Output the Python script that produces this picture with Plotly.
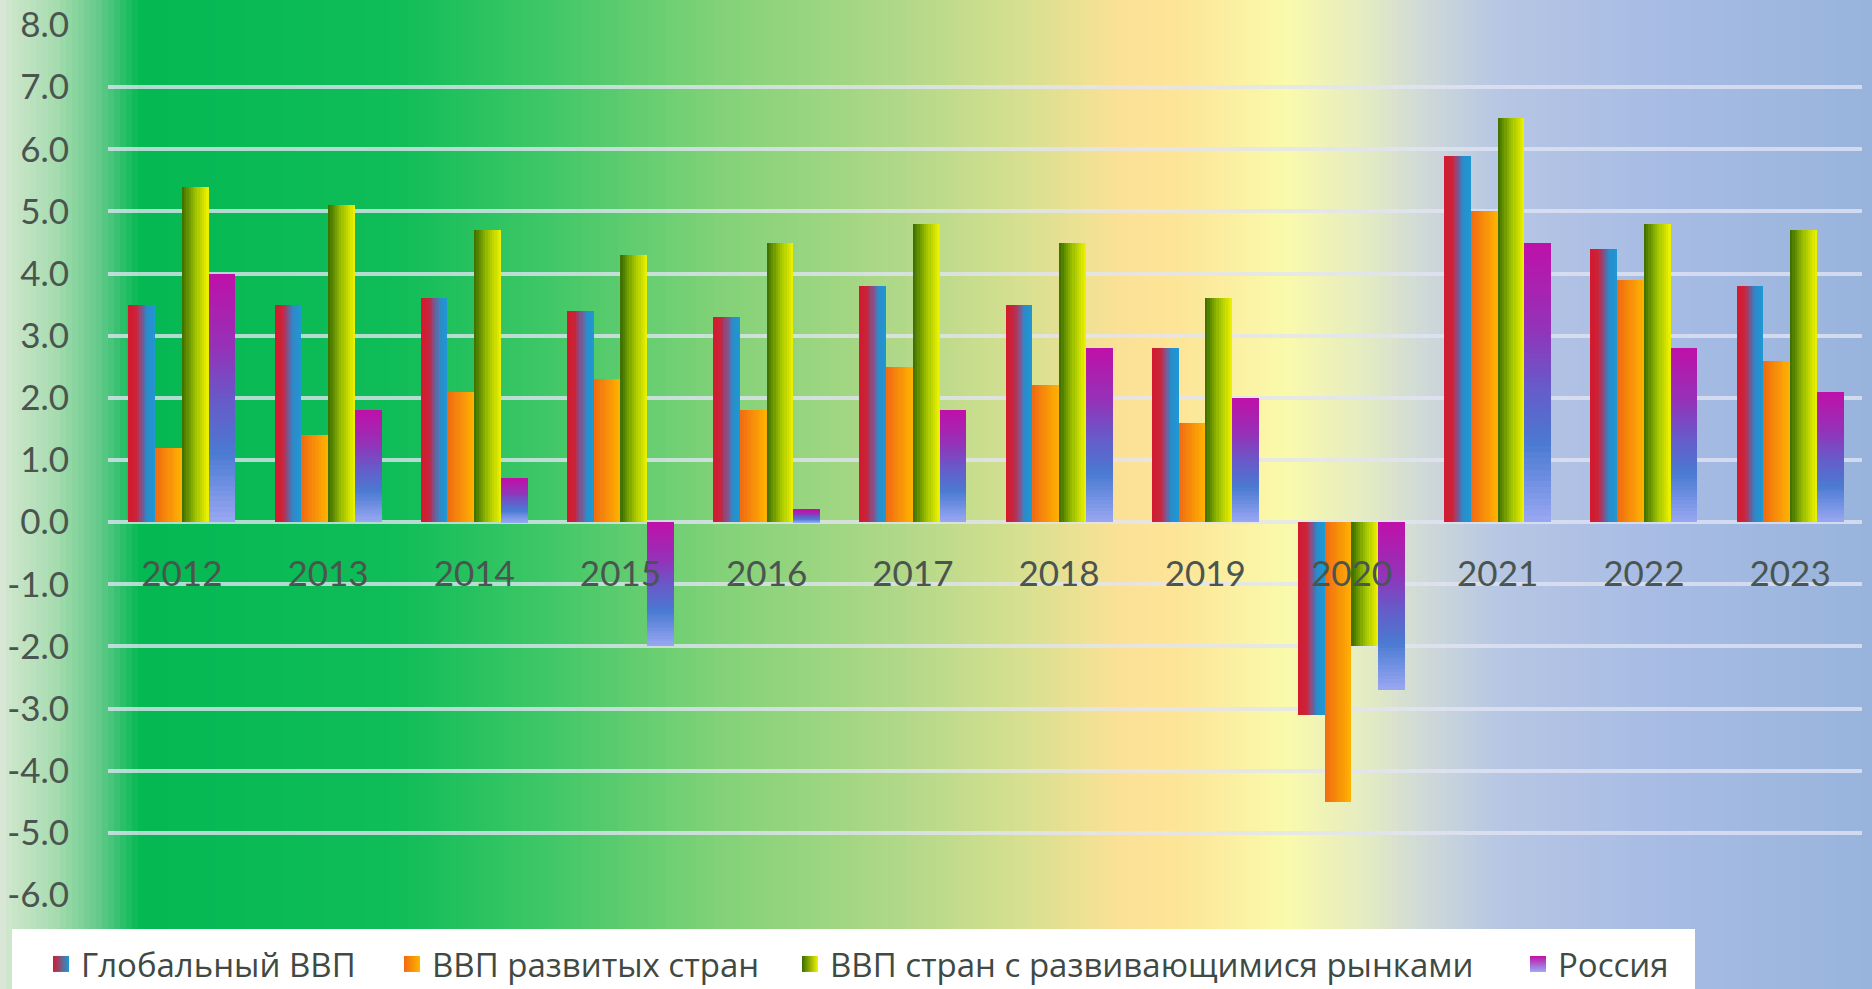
import plotly.graph_objects as go

# ---------------- data ----------------
years = ["2012", "2013", "2014", "2015", "2016", "2017", "2018", "2019", "2020", "2021", "2022", "2023"]
global_gdp = [3.5, 3.5, 3.6, 3.4, 3.3, 3.8, 3.5, 2.8, -3.1, 5.9, 4.4, 3.8]
developed_gdp = [1.2, 1.4, 2.1, 2.3, 1.8, 2.5, 2.2, 1.6, -4.5, 5.0, 3.9, 2.6]
emerging_gdp = [5.4, 5.1, 4.7, 4.3, 4.5, 4.8, 4.5, 3.6, -2.0, 6.5, 4.8, 4.7]
russia_gdp = [4.0, 1.8, 0.7, -2.0, 0.2, 1.8, 2.8, 2.0, -2.7, 4.5, 2.8, 2.1]
series_names = ["Глобальный ВВП", "ВВП развитых стран", "ВВП стран с развивающимися рынками", "Россия"]
y_ticks = [-6, -5, -4, -3, -2, -1, 0, 1, 2, 3, 4, 5, 6, 7, 8]
y_tick_labels = ["%.1f" % v for v in y_ticks]

# ---------------- geometry / style ----------------
W, H = 1872, 989
ML, MR, MT, MB = 108, 10, 25, 94
PW, PH = W - ML - MR, H - MT - MB


def px2x(px):
    return (px - ML) / PW


def py2y(py):
    return (H - MB - py) / PH


def hex2rgb(h):
    h = h.lstrip("#")
    return tuple(int(h[i:i + 2], 16) for i in (0, 2, 4))


def interp(stops, t):
    for i in range(len(stops) - 1):
        a, ca = stops[i]
        b, cb = stops[i + 1]
        if a <= t <= b:
            f = 0 if b == a else (t - a) / (b - a)
            r1, g1, b1 = hex2rgb(ca)
            r2, g2, b2 = hex2rgb(cb)
            return "rgb(%d,%d,%d)" % (round(r1 + (r2 - r1) * f), round(g1 + (g2 - g1) * f), round(b1 + (b2 - b1) * f))
    return stops[-1][1] if t > stops[-1][0] else stops[0][1]


bg_stops = [
    (0, "#dfe6dc"), (8, "#cfe6cc"), (55, "#a8dcb0"), (100, "#62c98a"), (140, "#04b852"),
    (400, "#10bd58"), (560, "#44c868"), (720, "#82d278"), (900, "#b0d888"), (1020, "#d6e090"),
    (1120, "#fbe196"), (1175, "#fde496"), (1285, "#fafaab"), (1360, "#e6edc0"), (1425, "#cfd9d8"),
    (1500, "#b6c6e4"), (1650, "#a8bce4"), (1872, "#98b4dc"),
]

shapes = []
step = 6
for x0 in range(0, W, step):
    shapes.append(dict(
        type="rect", xref="paper", yref="paper", layer="below",
        x0=px2x(x0), x1=px2x(min(x0 + step + 1, W)), y0=py2y(H + 2), y1=py2y(-2),
        fillcolor=interp(bg_stops, x0 + step / 2), line=dict(width=0),
    ))
# white legend panel
shapes.append(dict(
    type="rect", xref="paper", yref="paper", layer="below",
    x0=px2x(12), x1=px2x(1695), y0=py2y(991), y1=py2y(929),
    fillcolor="white", line=dict(width=0),
))

bar_w = 0.183
starts = [-2 * bar_w, -bar_w, 0.0, bar_w]

grad_global = [(0, "#d41a30"), (0.3, "#c8243a"), (0.5, "#86508a"), (0.72, "#2a8cca"), (1, "#1e98d4")]
grad_dev = [(0, "#f06a12"), (1, "#ffb400")]
grad_em = [(0, "#3a6c00"), (0.5, "#9cc000"), (1, "#f2f400")]
grad_ru = [(0, "#c010a8"), (0.3, "#9432b8"), (0.5, "#6a58c8"), (0.72, "#4a7ad2"), (1, "#9aa8f2")]

fig = go.Figure()

NH = 12
for values, start, grad in [(global_gdp, starts[0], grad_global),
                            (developed_gdp, starts[1], grad_dev),
                            (emerging_gdp, starts[2], grad_em)]:
    for k in range(NH):
        sw = bar_w / NH
        width = sw * (1.6 if k < NH - 1 else 1.0)
        fig.add_trace(go.Bar(
            x=years, y=values, offset=start + k * sw, width=width,
            marker=dict(color=interp(grad, (k + 0.5) / NH), line=dict(width=0)),
            showlegend=False, hoverinfo="skip",
        ))

NV = 48
for k in range(NV):
    bases = [v * k / NV for v in russia_gdp]
    heights = [v / NV * (1.6 if k < NV - 1 else 1.0) for v in russia_gdp]
    cols = []
    for v in russia_gdp:
        t = 1 - (k + 0.5) / NV if v >= 0 else (k + 0.5) / NV
        cols.append(interp(grad_ru, t))
    fig.add_trace(go.Bar(
        x=years, y=heights, base=bases, offset=starts[3], width=bar_w,
        marker=dict(color=cols, line=dict(width=0)),
        showlegend=False, hoverinfo="skip",
    ))

# legend entries (one legend per entry to place them like the original)
legend_defs = [
    (grad_global[0][1], grad_global[-1][1], "horizontal", 83),
    (grad_dev[0][1], grad_dev[-1][1], "horizontal", 434),
    (grad_em[0][1], grad_em[-1][1], "horizontal", 832),
    (grad_ru[0][1], grad_ru[-1][1], "vertical", 1560),
]
legend_names = ["legend", "legend2", "legend3", "legend4"]
for name, (c1, c2, gt, tx), lg in zip(series_names, legend_defs, legend_names):
    fig.add_trace(go.Scatter(
        x=[None], y=[None], mode="markers", name=name, legend=lg,
        marker=dict(symbol="square", size=20, color=c1, gradient=dict(type=gt, color=c2)),
    ))

leg_font = dict(family="Liberation Sans Narrow, Open Sans, sans-serif", size=33, color="#3f4a44")
layout_legends = {}
for lg, (_, _, _, tx) in zip(legend_names, legend_defs):
    layout_legends[lg] = dict(
        x=px2x(tx - 42), xanchor="left", y=py2y(964), yanchor="middle",
        bgcolor="rgba(0,0,0,0)", font=leg_font, itemwidth=30,
    )

axis_font = dict(family="Lato, Open Sans, sans-serif", size=35, color="#4a5550")

fig.update_layout(
    width=W, height=H,
    margin=dict(l=ML, r=MR, t=MT, b=MB, autoexpand=False),
    paper_bgcolor="white", plot_bgcolor="rgba(0,0,0,0)",
    barmode="overlay", bargap=0,
    shapes=shapes,
    showlegend=True,
    **layout_legends,
    xaxis=dict(
        type="category", range=[-0.505, 11.492], anchor="free", position=6 / 14,
        showgrid=False, showline=False, zeroline=False, automargin=False,
        ticks="outside", ticklen=21, tickcolor="rgba(0,0,0,0)",
        tickfont=axis_font,
    ),
    yaxis=dict(
        range=[-6, 8], tickvals=y_ticks, ticktext=y_tick_labels,
        showgrid=True, gridcolor="rgba(226,228,244,0.78)", gridwidth=4,
        zeroline=False, showline=False, automargin=False,
        ticks="outside", ticklen=31, tickcolor="rgba(0,0,0,0)",
        tickfont=axis_font,
    ),
)

fig.write_html("out.html", config={"displayModeBar": False},
               post_script="document.body.style.margin='0';")
